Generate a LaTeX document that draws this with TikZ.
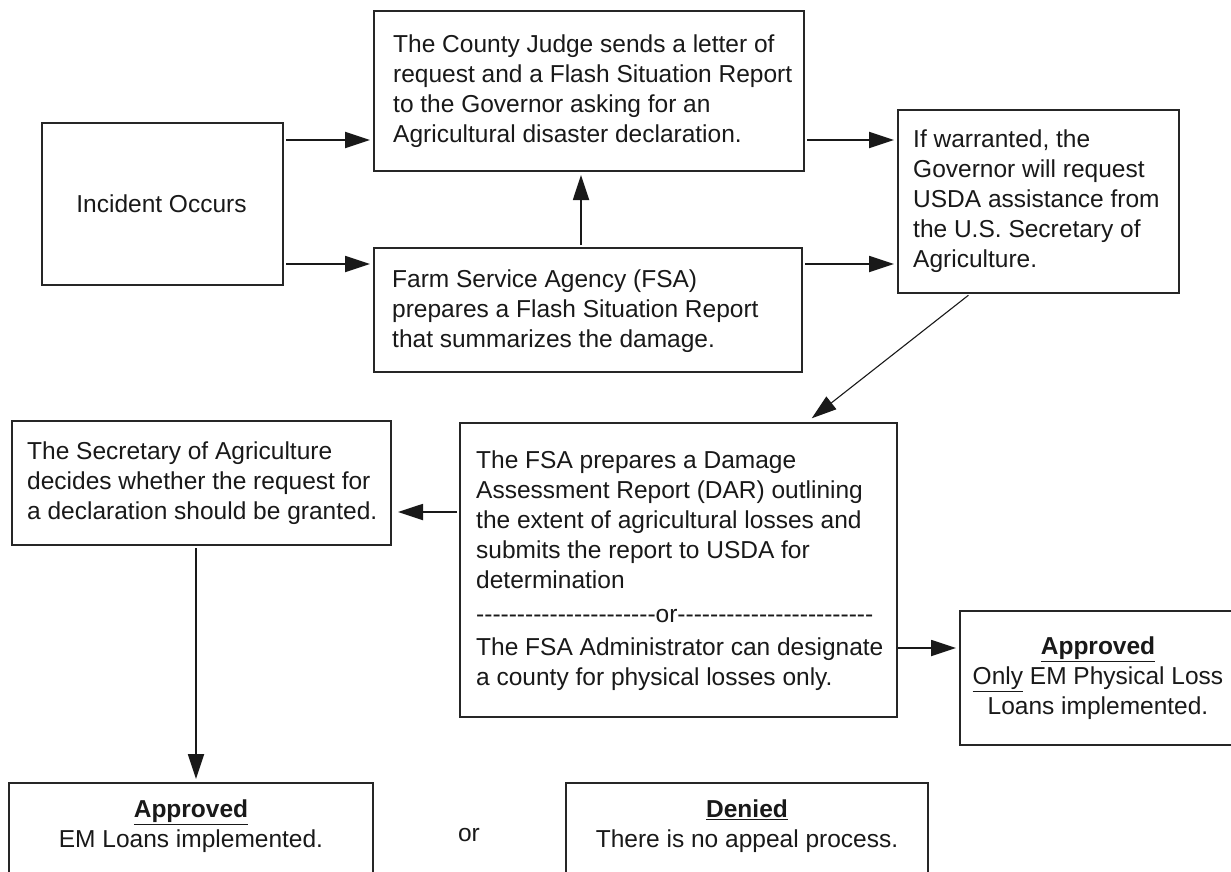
\documentclass[tikz,border=0pt]{standalone}
\usepackage{fontspec}
\newfontfamily\arialf{Liberation Sans}
\usetikzlibrary{arrows.meta,calc}
\begin{document}
\begin{tikzpicture}[x=1pt,y=-1pt,
  box/.style={draw=black!85, line width=2pt, inner sep=0pt, anchor=north west},
  txt/.style={font=\arialf\fontsize{24.5}{30}\selectfont, align=left, inner sep=0pt, text=black!90},
  ctxt/.style={txt, align=center},
  arr/.style={draw=black!90, line width=1.8pt, -{Triangle[length=25pt,width=16pt]}, shorten >=3pt, shorten <=2pt},
  thinarr/.style={arr, line width=1.1pt}]
\clip (0,0) rectangle (1231,872);
\fill[white] (0,0) rectangle (1231,872);
% boxes
\node[box, minimum width=241pt, minimum height=162pt] (incident) at (41,122) {};
\node[box, minimum width=430pt, minimum height=160pt] (judge) at (373,10) {};
\node[box, minimum width=428pt, minimum height=124pt] (fsa) at (373,247) {};
\node[box, minimum width=281pt, minimum height=183pt] (gov) at (897,109) {};
\node[box, minimum width=437pt, minimum height=294pt] (damage) at (459,422) {};
\node[box, minimum width=379pt, minimum height=124pt] (sec) at (11,420) {};
\node[box, minimum width=276pt, minimum height=134pt] (appR) at (959,610) {};
\node[box, minimum width=364pt, minimum height=130pt] (appB) at (8,782) {};
\node[box, minimum width=362pt, minimum height=130pt] (denied) at (565,782) {};
% texts
\node[txt] (tInc) at ($(incident.center)+(-1,0)$) {Incident Occurs};
\node[txt, anchor=west] (tJudge) at ($(judge.west)+(20,0)$) {The County Judge sends a letter of\\request and a Flash Situation Report\\to the Governor asking for an\\Agricultural disaster declaration.};
\node[txt, anchor=west] (tFsa) at ($(fsa.west)+(19,1)$) {Farm Service Agency (FSA)\\prepares a Flash Situation Report\\that summarizes the damage.};
\node[txt, anchor=west] (tGov) at ($(gov.west)+(16,0)$) {If warranted, the\\Governor will request\\USDA assistance from\\the U.S. Secretary of\\Agriculture.};
\node[txt, anchor=west] (tDam) at ($(damage.west)+(17,1)$) {The FSA prepares a Damage\\Assessment Report (DAR) outlining\\the extent of agricultural losses and\\submits the report to USDA for\\determination\\[4pt]----------------------or------------------------\\[3pt]The FSA Administrator can designate\\a county for physical losses only.};
\node[txt, anchor=west] (tSec) at ($(sec.west)+(16,0)$) {The Secretary of Agriculture\\decides whether the request for\\a declaration should be granted.};
\node[ctxt] (tAppR) at ($(appR.center)+(0,0)$) {\textbf{\underline{Approved}}\\\underline{Only} EM Physical Loss\\Loans implemented.};
\node[ctxt] (tAppB) at ($(appB.north)+(0,44)$) {\textbf{\underline{Approved}}\\EM Loans implemented.};
\node[ctxt] (tDen) at ($(denied.north)+(0,44)$) {\textbf{\underline{Denied}}\\There is no appeal process.};
\node[txt] (orTxt) at (469,835) {or};
% connector helper coordinates
\coordinate (y1) at (0,140);
\coordinate (y2) at (0,264);
\coordinate (x1) at (581,0);
\coordinate (x2) at (970,0);
\coordinate (x3) at (807,0);
\coordinate (y3) at (0,512);
\coordinate (y4) at (0,648);
\coordinate (x4) at (196,0);
% connectors
\draw[arr] (incident.east |- y1) -- (judge.west |- y1);
\draw[arr] (incident.east |- y2) -- (fsa.west |- y2);
\draw[arr] (fsa.north -| x1) -- (judge.south -| x1);
\draw[arr] (judge.east |- y1) -- (gov.west |- y1);
\draw[arr] (fsa.east |- y2) -- (gov.west |- y2);
\draw[thinarr, shorten >=6pt] (gov.south -| x2) -- (damage.north -| x3);
\draw[arr, shorten >=6pt] (damage.west |- y3) -- (sec.east |- y3);
\draw[arr, shorten <=0pt] (damage.east |- y4) -- (appR.west |- y4);
\draw[arr] (sec.south -| x4) -- (appB.north -| x4);
\end{tikzpicture}
\end{document}
